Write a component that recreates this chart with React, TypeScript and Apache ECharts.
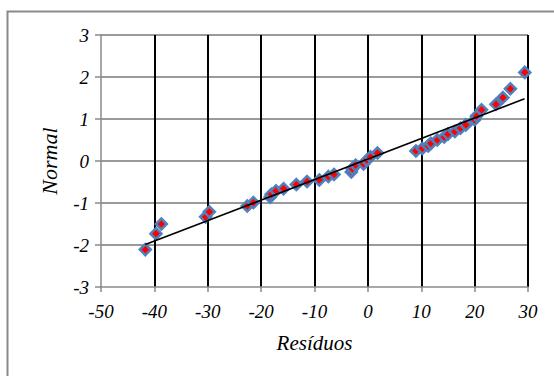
import React, { useEffect, useRef } from "react";
import * as echarts from "echarts";

const residuos: number[] = [
  -41.7, -39.7, -38.7, -30.4, -29.7, -22.6, -21.45, -18.3, -18.1, -17.2,
  -15.8, -13.4, -11.4, -9.1, -7.4, -6.35, -3.1, -2.9, -2.3, -0.8,
  -0.2, 0.5, 1.8, 9.0, 10.2, 11.3, 11.8, 13.0, 14.3, 15.0,
  16.3, 17.35, 18.35, 20.0, 20.35, 21.3, 24.0, 25.3, 26.7, 29.4,
];
const normal: number[] = [
  -2.11, -1.73, -1.5, -1.33, -1.21, -1.07, -0.99, -0.86, -0.79, -0.71,
  -0.66, -0.56, -0.49, -0.45, -0.37, -0.32, -0.26, -0.19, -0.1, -0.07,
  0.02, 0.1, 0.19, 0.24, 0.3, 0.36, 0.42, 0.5, 0.57, 0.64,
  0.7, 0.78, 0.86, 0.98, 1.07, 1.22, 1.35, 1.51, 1.72, 2.11,
];
const trendX: number[] = [-41.7, 29.35];
const trendY: number[] = [-1.99, 1.48];
const xTicks = { min: -50, max: 30, interval: 10 };
const yTicks = { min: -3, max: 3, interval: 1 };

const FONT = "Liberation Serif";

export default function App() {
  const ref = useRef<HTMLDivElement>(null);
  useEffect(() => {
    if (!ref.current) return;
    const chart = echarts.init(ref.current, undefined, { renderer: "svg" });
    const points = residuos.map((x, i) => [x, normal[i]]);
    const trend = trendX.map((x, i) => [x, trendY[i]]);
    const tickLabel = {
      fontFamily: FONT,
      fontStyle: "italic",
      fontSize: 19,
      color: "#000",
    };
    chart.setOption({
      animation: false,
      backgroundColor: "#ffffff",
      textStyle: { fontFamily: FONT, fontStyle: "italic", color: "#000" },
      graphic: [
        {
          type: "rect",
          shape: { x: 7.5, y: 11.5, width: 600, height: 400 },
          style: { fill: "none", stroke: "#8a8a8a", lineWidth: 2 },
          silent: true,
        },
      ],
      grid: { left: 101, right: 26, top: 35, bottom: 89, containLabel: false },
      xAxis: {
        type: "value",
        min: xTicks.min,
        max: xTicks.max,
        interval: xTicks.interval,
        name: "Resíduos",
        nameLocation: "middle",
        nameGap: 45,
        nameTextStyle: { fontFamily: FONT, fontStyle: "italic", fontSize: 21, color: "#000" },
        axisLine: { show: true, onZero: false, lineStyle: { color: "#8a8a8a", width: 1.5 } },
        axisTick: { show: true, length: 5, lineStyle: { color: "#8a8a8a", width: 1.5 } },
        axisLabel: { ...tickLabel, margin: 15 },
        splitLine: { show: true, showMinLine: false, lineStyle: { color: "#000", width: 2 } },
      },
      yAxis: {
        type: "value",
        min: yTicks.min,
        max: yTicks.max,
        interval: yTicks.interval,
        name: "Normal",
        nameLocation: "middle",
        nameGap: 41,
        nameRotate: 90,
        nameTextStyle: { fontFamily: FONT, fontStyle: "italic", fontSize: 22, color: "#000" },
        axisLine: { show: true, onZero: false, lineStyle: { color: "#8a8a8a", width: 1.5 } },
        axisTick: { show: true, length: 6, lineStyle: { color: "#8a8a8a", width: 1.5 } },
        axisLabel: { ...tickLabel, margin: 12 },
        splitLine: { show: true, showMinLine: false, lineStyle: { color: "#9a9a9a", width: 2 } },
      },
      series: [
        {
          type: "scatter",
          data: points,
          symbol: "diamond",
          symbolSize: 11,
          itemStyle: { color: "#ff0000", borderColor: "#4f81bd", borderWidth: 2.5, opacity: 1 },
          z: 3,
        },
        {
          type: "line",
          data: trend,
          symbol: "none",
          lineStyle: { color: "#000", width: 1.6 },
          z: 4,
        },
      ],
    });
    return () => chart.dispose();
  }, []);
  return (
    <div
      ref={ref}
      style={{ position: "fixed", left: 0, top: 0, width: 554, height: 376 }}
    />
  );
}
